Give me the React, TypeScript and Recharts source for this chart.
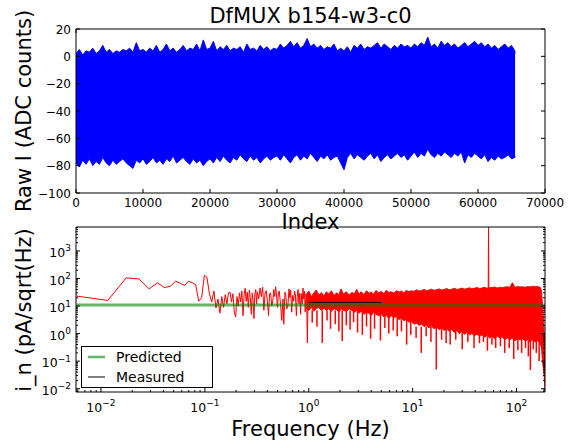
import React from 'react';
import { ComposedChart, Area, Bar, Line, XAxis, YAxis } from 'recharts';

const FONT = '"DejaVu Sans", Verdana, sans-serif';

// ---- top panel: raw I timestream, min/max per 500-sample bin ----
const SAMPLES = 65536;
const BIN = 500;
const rawUpper = [
  2, 5, 1, 4, 3, 6, 2, 4, 8, 3, 5, 2, 4, 3, 5, 4, 6, 3, 10, 4,
  5, 3, 6, 4, 8, 3, 5, 9, 4, 6, 3, 5, 8, 4, 6, 5, 9, 4, 12, 5,
  6, 11, 4, 7, 5, 8, 4, 6, 5, 7, 3, 9, 5, 6, 4, 8, 5, 7, 4, 6,
  5, 9, 6, 8, 11, 7, 10, 6, 8, 13, 7, 9, 6, 8, 5, 7, 6, 9, 4, 6,
  4, 7, 3, 8, 6, 9, 5, 7, 6, 8, 10, 6, 9, 7, 5, 8, 6, 9, 7, 8,
  6, 9, 7, 10, 8, 14, 7, 9, 6, 11, 8, 10, 7, 9, 6, 8, 10, 7, 9, 11,
  8, 10, 7, 9, 6, 8, 5, 7, 9, 6, 8, 4, 2,
];
const rawLower = [
  -78, -81, -76, -79, -75, -80, -77, -79, -74, -78, -80, -76, -79, -77, -75, -78, -80, -82, -76, -78,
  -75, -79, -77, -74, -78, -76, -79, -75, -77, -73, -78, -76, -74, -77, -79, -75, -78, -76, -80, -77,
  -75, -78, -74, -77, -73, -76, -78, -74, -76, -72, -75, -77, -73, -76, -74, -78, -75, -73, -76, -74,
  -73, -76, -72, -75, -78, -74, -72, -76, -73, -75, -71, -74, -77, -73, -75, -72, -76, -74, -73, -78,
  -83, -74, -71, -75, -72, -74, -76, -73, -71, -75, -72, -77, -74, -72, -75, -73, -71, -74, -72, -76,
  -73, -70, -74, -71, -73, -68, -72, -74, -71, -73, -70, -72, -74, -71, -73, -70, -78, -72, -74, -71,
  -73, -75, -72, -77, -74, -76, -73, -75, -74, -72, -75, -74, -73,
];
const indexTicks = [0, 10000, 20000, 30000, 40000, 50000, 60000, 70000];
const countTicks = [-100, -80, -60, -40, -20, 0, 20];

// ---- bottom panel: current noise spectrum ----
// below 1 Hz the trace is still a readable line
const lowFreq = [
  0.00582, 0.01164, 0.01746, 0.02328, 0.0291, 0.03492, 0.04074, 0.04656, 0.05238, 0.0582,
  0.06402, 0.06984, 0.07566, 0.08148, 0.0873, 0.09312, 0.09894, 0.10476, 0.1106, 0.1164,
  0.1222, 0.128, 0.1339, 0.1397, 0.1455, 0.1513, 0.1571, 0.163, 0.1688, 0.1746,
  0.1804, 0.1862, 0.192, 0.1979, 0.2037, 0.2095, 0.2153, 0.2212, 0.227, 0.233,
  0.2386, 0.2444, 0.25, 0.256, 0.262, 0.268, 0.274, 0.28, 0.286, 0.291,
  0.297, 0.303, 0.309, 0.315, 0.32, 0.33, 0.34, 0.35, 0.36, 0.37,
  0.38, 0.39, 0.4, 0.41, 0.42, 0.43, 0.44, 0.45, 0.46, 0.47,
  0.48, 0.49, 0.5, 0.51, 0.52, 0.535, 0.55, 0.565, 0.575, 0.59,
  0.6, 0.615, 0.63, 0.645, 0.66, 0.67, 0.685, 0.7, 0.715, 0.73,
  0.745, 0.76, 0.775, 0.79, 0.805, 0.82, 0.835, 0.85, 0.865, 0.88,
  0.895, 0.91, 0.925, 0.94, 0.955, 0.97, 0.985, 1.0,
];
const lowAsd = [
  23, 16, 105, 96, 42, 70, 47, 52, 80, 66,
  56, 80, 70, 60, 15, 20, 130, 110, 28, 14,
  35, 8.5, 18, 5.5, 22, 9, 26, 12, 30, 32,
  14, 28, 6, 4, 22, 10, 30, 14, 35, 4.5,
  26, 44, 15, 32, 9, 38, 20, 5, 30, 16,
  3.5, 28, 40, 12, 33, 18, 45, 22, 48, 7,
  30, 36, 15, 4.5, 28, 30, 10, 14, 40, 22,
  50, 25, 9, 30, 35, 12, 3, 18, 2.2, 32,
  28, 8, 10, 42, 20, 38, 6, 24, 15, 35,
  25, 4.5, 22, 40, 12, 30, 5, 28, 12, 45,
  18, 35, 6, 28, 20, 0.46, 25, 18,
];
// above 1 Hz: envelope of the dense trace (upper edge, solid lower edge)
const bandFreq = [
  0.95, 1.0, 1.06, 1.12, 1.18, 1.25, 1.32, 1.4, 1.48, 1.56,
  1.65, 1.75, 1.85, 1.95, 2.05, 2.15, 2.3, 2.45, 2.6, 2.75,
  2.9, 3.05, 3.2, 3.4, 3.6, 3.8, 4.0, 4.2, 4.45, 4.7,
  5.0, 5.3, 5.6, 5.9, 6.2, 6.6, 7.0, 7.4, 7.8, 8.2,
  8.7, 9.2, 9.7, 10.3, 10.9, 11.5, 12.2, 12.9, 13.6, 14.4,
  15.2, 16.1, 17.0, 18.0, 19.0, 20.1, 21.3, 22.5, 23.8, 25.2,
  26.6, 28.2, 29.8, 31.5, 33.3, 35.2, 37.2, 39.4, 41.7, 44.1,
  46.6, 49.3, 52.1, 55.1, 58.3, 61.7, 65.2, 69.0, 73.0, 77.2,
  81.6, 86.3, 91.3, 96.5, 102, 108, 114, 121, 128, 135,
  143, 151, 160, 169, 174, 178, 182, 186, 190.7,
];
const bandHi = [
  26, 35, 22, 30, 38, 25, 31, 23, 33, 27,
  36, 24, 30, 26, 42, 27, 33, 25, 31, 28,
  40, 27, 33, 26, 36, 29, 32, 27, 37, 30,
  34, 28, 38, 31, 33, 29, 36, 32, 35, 30,
  37, 33, 36, 34, 39, 35, 37, 40, 36, 38,
  41, 37, 39, 42, 38, 40, 43, 39, 41, 44,
  40, 42, 45, 41, 43, 46, 42, 44, 47, 43,
  45, 48, 44, 46, 47, 49, 45, 48, 46, 49,
  50, 48, 70, 47, 51, 49, 50, 48, 51, 49,
  52, 50, 51, 48, 35, 10, 2.5, 0.6, 0.05,
];
const bandLo = [
  8, 7, 9, 6.5, 8, 9, 7, 8.5, 7, 8,
  6.5, 8, 7.5, 6, 8, 7, 6.5, 8, 7, 6,
  7, 5.5, 6.5, 5, 6, 5.5, 4.5, 6, 5, 4.5,
  5, 4, 4.5, 3.5, 4.5, 3.8, 4.2, 3.2, 3.8, 3,
  3.2, 2.6, 2.8, 2.2, 2.4, 2, 2.2, 1.8, 2, 1.6,
  1.9, 1.5, 1.7, 1.4, 1.6, 1.3, 1.5, 1.2, 1.4, 1.1,
  1.3, 1.0, 1.2, 0.95, 1.1, 0.9, 1.0, 0.85, 0.95, 0.8,
  0.9, 0.75, 0.85, 0.7, 0.8, 0.65, 0.8, 0.7, 0.75, 0.6,
  0.7, 0.6, 0.7, 0.55, 0.65, 0.6, 0.65, 0.55, 0.6, 0.5,
  0.6, 0.5, 0.55, 0.45, 0.3, 0.1, 0.05, 0.02, 0.005,
];
// single-bin dips below the solid band: depth and the band floor they hang from
const dipFreq = [
  1.08, 1.2, 1.35, 1.5, 1.62, 1.8, 1.95, 2.1, 2.3, 2.5,
  2.7, 2.95, 3.28, 3.6, 3.94, 4.3, 4.9, 5.4, 5.9, 6.5,
  7.1, 7.8, 8.76, 9.6, 10.8, 12.1, 13.5, 15.0, 16.9, 19,
  21, 23, 26, 30, 34, 39, 44, 48, 52.5, 58,
  63, 70, 77, 85, 94, 103, 112, 122, 130, 136,
  145, 155, 165,
];
const dipAsd = [
  2.5, 1.8, 0.46, 3, 1.5, 2.2, 1.2, 0.54, 2, 1.4,
  2.6, 1.1, 0.9, 1.8, 0.65, 1.5, 0.56, 1.6, 1.0, 1.3,
  0.8, 1.2, 0.4, 0.9, 0.7, 0.2, 0.8, 0.5, 0.05, 0.6,
  0.45, 0.4, 0.6, 0.27, 0.5, 0.3, 0.45, 0.5, 0.24, 0.4,
  0.3, 0.35, 0.2, 0.3, 0.12, 0.25, 0.2, 0.3, 0.15, 0.048,
  0.27, 0.2, 0.1,
];
const dipFloor = [
  7, 7, 7, 7, 7, 7, 7, 7, 7, 7,
  7, 7, 7, 7, 7, 7, 7, 4, 4, 4,
  4, 4, 4, 4, 1.8, 1.8, 1.8, 1.8, 1.8, 1.8,
  1.8, 1.8, 1.8, 1.8, 1.8, 1.8, 1.8, 1.8, 0.8, 0.8,
  0.8, 0.8, 0.8, 0.8, 0.8, 0.8, 0.8, 0.8, 0.8, 0.8,
  0.8, 0.8, 0.8,
];
const mainsFreq = [53.4, 53.8, 54.2];
const mainsAsd = [42, 9000, 44];
const predictedFreq = [0.00582, 190.7];
const predictedAsd = [11, 11];
const measuredFreq = [1.0, 5.0];
const measuredAsd = [13.6, 13.6];
const freqDomain = [0.00575, 188];
const asdDomain = [0.0076, 7400];

const rawData = rawUpper.map((hi, i) => ({
  idx: Math.min(i * BIN, SAMPLES - 1),
  range: [rawLower[i], hi],
}));

type Row = { f: number; low?: number; band?: number[]; dip?: number[]; mains?: number; pred?: number; meas?: number };
const specData: Row[] = [
  ...lowFreq.map((f, i) => ({ f, low: lowAsd[i] })),
  ...bandFreq.map((f, i) => ({ f, band: [bandLo[i], bandHi[i]] })),
  ...dipFreq.map((f, i) => ({ f, dip: [dipAsd[i], dipFloor[i]] })),
  ...mainsFreq.map((f, i) => ({ f, mains: mainsAsd[i] })),
  ...predictedFreq.map((f, i) => ({ f, pred: predictedAsd[i] })),
  ...measuredFreq.map((f, i) => ({ f, meas: measuredAsd[i] })),
].sort((a, b) => a.f - b.f);

// log ticks: 1..9 x decade inside a range
const logTicks = (lo: number, hi: number) => {
  const out: number[] = [];
  for (let e = -3; e <= 4; e++) {
    for (let m = 1; m < 10; m++) {
      const v = m * Math.pow(10, e);
      if (v >= lo && v <= hi) out.push(v);
    }
  }
  return out;
};
const isDecade = (v: number) => Math.abs(Math.log10(v) - Math.round(Math.log10(v))) < 1e-6;
const minus = (n: number) => (n < 0 ? '\u2212' + Math.abs(n) : String(n));

type Side = 'left' | 'right' | 'top' | 'bottom';
const inward = (side: Side, x: number, y: number, len: number) => {
  const dx = side === 'left' ? len : side === 'right' ? -len : 0;
  const dy = side === 'bottom' ? -len : side === 'top' ? len : 0;
  return <line x1={x} y1={y} x2={x + dx} y2={y + dy} stroke="#000" strokeWidth={1} />;
};

const Pow = ({ x, y, value, anchor }: { x: number; y: number; value: number; anchor: 'middle' | 'end' }) => (
  <text x={x} y={y} textAnchor={anchor} fontFamily={FONT} fontSize={12.5} fill="#000">
    10
    <tspan dy={-5.5} fontSize={9}>
      {minus(Math.round(Math.log10(value)))}
    </tspan>
  </text>
);

const linTick = (side: Side) => (p: any) => (
  <g>
    {inward(side, p.x, p.y, 4)}
    {side === 'bottom' && (
      <text x={p.x} y={p.y + 14} textAnchor="middle" fontFamily={FONT} fontSize={12} fill="#000">
        {minus(p.payload.value)}
      </text>
    )}
    {side === 'left' && (
      <text x={p.x - 5} y={p.y + 4.5} textAnchor="end" fontFamily={FONT} fontSize={12} fill="#000">
        {minus(p.payload.value)}
      </text>
    )}
  </g>
);

const logTick = (side: Side) => (p: any) => {
  const major = isDecade(p.payload.value);
  return (
    <g>
      {inward(side, p.x, p.y, major ? 4 : 2)}
      {major && side === 'bottom' && <Pow x={p.x} y={p.y + 19.5} value={p.payload.value} anchor="middle" />}
      {major && side === 'left' && <Pow x={p.x - 5} y={p.y + 6} value={p.payload.value} anchor="end" />}
    </g>
  );
};

// dip bars: keep the bar's scaled position and height, draw it 1.5px wide
const DipShape = (p: any) =>
  p.height == null || !isFinite(p.y) ? null : (
    <rect x={p.x + p.width / 2 - 0.75} y={p.y} width={1.5} height={Math.abs(p.height)} fill="#ff0000" />
  );

const AXIS = { stroke: '#000', strokeWidth: 1 };

export default function App() {
  const fTicks = logTicks(freqDomain[0], freqDomain[1]);
  const aTicks = logTicks(asdDomain[0], asdDomain[1]);
  return (
    <div style={{ position: 'absolute', left: 0, top: 0, width: 577, height: 442, background: '#fff' }}>
      <div style={{ position: 'absolute', left: 0, top: 0 }}>
        <ComposedChart width={577} height={215} data={rawData} margin={{ top: 19, right: 22, bottom: 2, left: 36 }}>
          <XAxis dataKey="idx" type="number" domain={[0, 70000]} ticks={indexTicks} interval={0} height={20}
            tickSize={0} tickMargin={0} axisLine={AXIS} tick={linTick('bottom')} allowDataOverflow />
          <XAxis xAxisId="top" orientation="top" type="number" domain={[0, 70000]} ticks={indexTicks} interval={0}
            height={10} tickSize={0} tickMargin={0} axisLine={AXIS} tick={linTick('top')} allowDataOverflow />
          <YAxis type="number" domain={[-100, 20]} ticks={countTicks} interval={0} width={40}
            tickSize={0} tickMargin={0} axisLine={AXIS} tick={linTick('left')} allowDataOverflow />
          <YAxis yAxisId="right" orientation="right" type="number" domain={[-100, 20]} ticks={countTicks} interval={0}
            width={10} tickSize={0} tickMargin={0} axisLine={AXIS} tick={linTick('right')} allowDataOverflow />
          <Area type="linear" dataKey="range" stroke="#0000ff" strokeWidth={1} fill="#0000ff" fillOpacity={1}
            isAnimationActive={false} dot={false} activeDot={false} />
        </ComposedChart>
      </div>
      <div style={{ position: 'absolute', left: 0, top: 215 }}>
        <ComposedChart width={577} height={227} data={specData} margin={{ top: 2, right: 22, bottom: 30, left: 36 }}>
          <XAxis dataKey="f" type="number" scale="log" domain={freqDomain} ticks={fTicks} interval={0} height={20}
            tickSize={0} tickMargin={0} axisLine={AXIS} tick={logTick('bottom')} allowDataOverflow />
          <XAxis xAxisId="top" orientation="top" type="number" scale="log" domain={freqDomain} ticks={fTicks}
            interval={0} height={10} tickSize={0} tickMargin={0} axisLine={AXIS} tick={logTick('top')} allowDataOverflow />
          <YAxis type="number" scale="log" domain={asdDomain} ticks={aTicks} interval={0} width={40}
            tickSize={0} tickMargin={0} axisLine={AXIS} tick={logTick('left')} allowDataOverflow />
          <YAxis yAxisId="right" orientation="right" type="number" scale="log" domain={asdDomain} ticks={aTicks}
            interval={0} width={10} tickSize={0} tickMargin={0} axisLine={AXIS} tick={logTick('right')} allowDataOverflow />
          <Area type="linear" dataKey="band" stroke="#ff0000" strokeWidth={1} fill="#ff0000" fillOpacity={1}
            connectNulls isAnimationActive={false} dot={false} activeDot={false} />
          <Bar dataKey="dip" fill="#ff0000" shape={DipShape} isAnimationActive={false} />
          <Line type="linear" dataKey="low" stroke="#ff0000" strokeWidth={1} dot={false} connectNulls
            isAnimationActive={false} />
          <Line type="linear" dataKey="mains" stroke="#ff0000" strokeWidth={1} dot={false} connectNulls
            isAnimationActive={false} />
          <Line type="linear" dataKey="pred" stroke="#008000" strokeOpacity={0.6} strokeWidth={3} dot={false}
            connectNulls isAnimationActive={false} />
          <Line type="linear" dataKey="meas" stroke="#000" strokeWidth={1} dot={false} connectNulls
            isAnimationActive={false} />
        </ComposedChart>
      </div>
      <svg width={577} height={442} style={{ position: 'absolute', left: 0, top: 0, pointerEvents: 'none' }}
        fontFamily={FONT} fill="#000">
        <text x={310.5} y={23} textAnchor="middle" fontSize={21}>DfMUX b154-w3-c0</text>
        <text transform="translate(31,111) rotate(-90)" textAnchor="middle" fontSize={21}>Raw I (ADC counts)</text>
        <text x={310.5} y={229} textAnchor="middle" fontSize={21}>Index</text>
        <text transform="translate(31,310) rotate(-90)" textAnchor="middle" fontSize={21}>i_n (pA/sqrt(Hz)</text>
        <text x={310.5} y={436} textAnchor="middle" fontSize={21}>Frequency (Hz)</text>
        <rect x={81.5} y={346.5} width={131} height={41} fill="#fff" stroke="#000" strokeWidth={1} />
        <line x1={88} x2={105} y1={357} y2={357} stroke="#008000" strokeOpacity={0.6} strokeWidth={2.5} />
        <text x={116} y={362} fontSize={14}>Predicted</text>
        <line x1={88} x2={105} y1={377} y2={377} stroke="#000" strokeWidth={1} />
        <text x={116} y={382} fontSize={14}>Measured</text>
      </svg>
    </div>
  );
}
